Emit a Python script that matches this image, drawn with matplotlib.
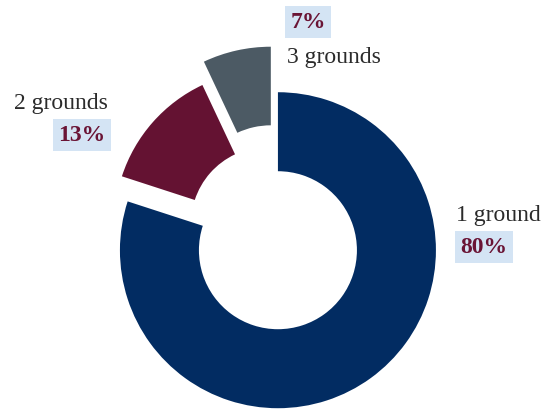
import matplotlib
matplotlib.use("Agg")
import matplotlib.pyplot as plt

labels = ["1 ground", "2 grounds", "3 grounds"]
shares = [80, 13, 7]
colors = ["#022c62", "#641232", "#4c5a64"]

# where each ring segment sits (pulled-out slices are nudged off centre)
centers = [(0.0, -0.008), (-0.065, 0.16), (-0.045, 0.285)]
radii = [1.0, 0.97, 0.995]

# label anchor: (x, y, ha) for name and for percentage
name_pos = [(1.127, 0.215, "left"), (-1.076, 0.924, "right"), (0.057, 1.215, "left")]
pct_pos = [(1.155, 0.013, "left"), (-1.089, 0.722, "right"), (0.078, 1.437, "left")]

fig = plt.figure(figsize=(5.44, 4.10), dpi=100)
ax = fig.add_axes([0, 0, 1, 1])

wedges, _ = ax.pie(shares, colors=colors, startangle=90, counterclock=False,
                   radius=1.0, wedgeprops=dict(width=0.5, linewidth=0))
for w, c, r in zip(wedges, centers, radii):
    w.set_center(c)
    w.set_radius(r)
    w.set_width(0.5 * r)

serif = ["Liberation Serif", "DejaVu Serif"]
for lab, v, (nx, ny, nha), (px, py, pha) in zip(labels, shares, name_pos, pct_pos):
    ax.text(nx, ny, lab, ha=nha, va="center", fontsize=17, color="#2b2b2b",
            family=serif)
    ax.text(px, py, f"{v}%", ha=pha, va="center", fontsize=17, color="#6a1435",
            fontweight="bold", family=serif,
            bbox=dict(boxstyle="square,pad=0.22", fc="#d4e4f4", ec="none"))

ax.set_xlim(-1.759, 1.684)
ax.set_ylim(-1.013, 1.582)
ax.axis("off")

fig.savefig("out.png", dpi=100)
